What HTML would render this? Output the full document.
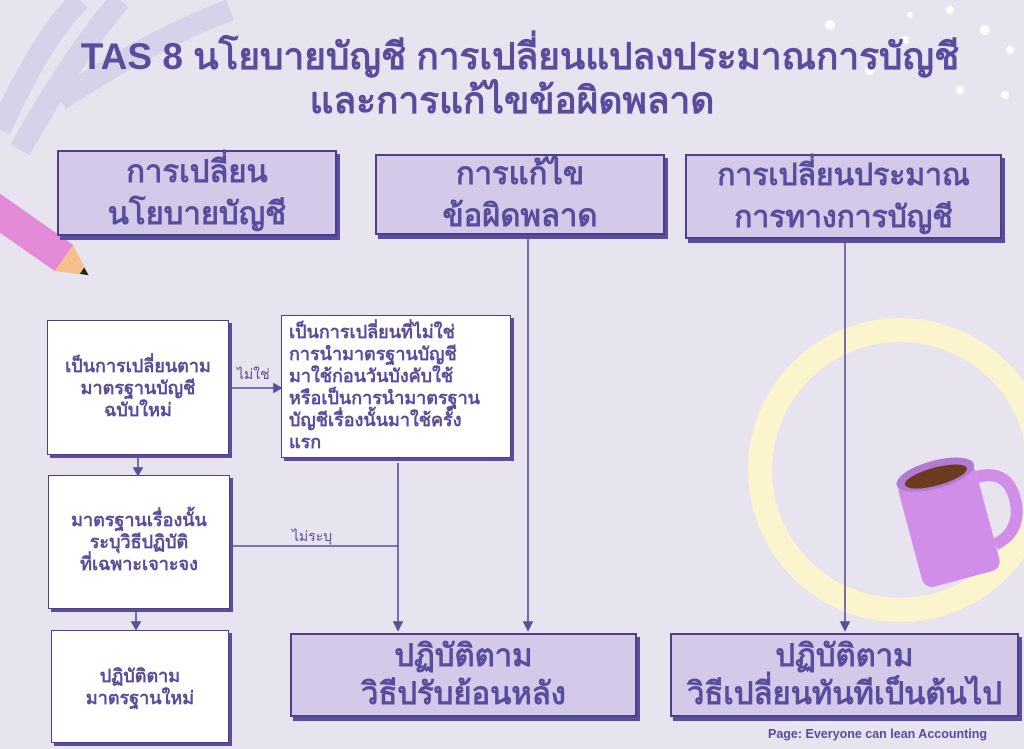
<!DOCTYPE html>
<html><head><meta charset="utf-8"><style>
body{margin:0;width:1024px;height:749px;background:#e7e4ef;position:relative;overflow:hidden;font-family:"Liberation Sans","DejaVu Sans",sans-serif;color:#5a4c9c;font-weight:bold}
.b{position:absolute;box-sizing:border-box;border:2px solid #4d3f8a;box-shadow:3px 4px 0 #5b4d9c;display:flex;align-items:center;justify-content:center;text-align:center;white-space:nowrap}
.p{background:#d3c9e8;font-size:31px;line-height:42px}
.w{background:#fff;font-size:18px;line-height:22px;box-shadow:3px 3px 0 #5b4d9c;border:1.5px solid #4d3f8a}
.t{position:absolute;width:1024px;text-align:center;font-size:37px;line-height:46px;white-space:nowrap}
.l{position:absolute;font-size:14px;font-weight:normal}
svg{position:absolute;left:0;top:0}
</style></head><body>
<svg width="1024" height="749">
<path d="M0 130 Q40 40 80 0 M20 150 Q70 60 120 0 M60 100 Q150 40 230 10" stroke="#d4cce8" stroke-width="22" fill="none" opacity=".8"/>
<circle cx="900" cy="470" r="140" fill="none" stroke="#fbf4cc" stroke-width="24"/>
<g fill="#fff"><circle cx="830" cy="25" r="5"/><circle cx="870" cy="70" r="5"/><circle cx="905" cy="40" r="4"/><circle cx="985" cy="30" r="5"/><circle cx="1010" cy="50" r="4"/><circle cx="960" cy="90" r="4"/><circle cx="1005" cy="95" r="4"/><circle cx="910" cy="15" r="3"/><circle cx="950" cy="10" r="4"/></g>
<g transform="rotate(-15 950 510)"><rect x="905" y="470" width="80" height="110" rx="10" fill="#d08ee8"/><ellipse cx="945" cy="472" rx="40" ry="14" fill="#b27ad0"/><ellipse cx="945" cy="474" rx="32" ry="9" fill="#6b3b20"/><path d="M985 485 q35 0 30 40 q-5 25 -30 30" stroke="#d08ee8" stroke-width="12" fill="none"/></g>
<g transform="rotate(35 40 240)"><rect x="-40" y="225" width="110" height="32" fill="#e38ad8"/><polygon points="70,225 100,241 70,257" fill="#f5c08a"/><polygon points="92,237 100,241 92,245" fill="#222"/></g>
<g stroke="#5b4e9a" stroke-width="1.6" fill="#5b4e9a">
<line x1="528" y1="236" x2="528" y2="624"/><polygon points="524,622 532,622 528,630"/>
<line x1="845" y1="240" x2="845" y2="624"/><polygon points="841,622 849,622 845,630"/>
<line x1="398" y1="463" x2="398" y2="624"/><polygon points="394,622 402,622 398,630"/>
<line x1="230" y1="546" x2="398" y2="546"/>
<line x1="230" y1="388" x2="276" y2="388"/><polygon points="274,384 274,392 281,388"/>
<line x1="138" y1="458" x2="138" y2="470"/><polygon points="134,468 142,468 138,475"/>
<line x1="136" y1="612" x2="136" y2="624"/><polygon points="132,622 140,622 136,629"/>
</g></svg>
<div class="t" style="top:34px;left:8px">TAS 8 นโยบายบัญชี การเปลี่ยนแปลงประมาณการบัญชี</div>
<div class="t" style="top:78px;left:0">และการแก้ไขข้อผิดพลาด</div>
<div class="b p" style="left:57px;top:150px;width:280px;height:86px">การเปลี่ยน<br>นโยบายบัญชี</div>
<div class="b p" style="left:375px;top:154px;width:290px;height:81px">การแก้ไข<br>ข้อผิดพลาด</div>
<div class="b p" style="left:685px;top:154px;width:317px;height:85px;font-size:30px">การเปลี่ยนประมาณ<br>การทางการบัญชี</div>
<div class="b w" style="left:47px;top:320px;width:182px;height:135px">เป็นการเปลี่ยนตาม<br>มาตรฐานบัญชี<br>ฉบับใหม่</div>
<div class="b w" style="left:281px;top:315px;width:230px;height:143px;justify-content:flex-start;text-align:left;padding-left:7px">เป็นการเปลี่ยนที่ไม่ใช่<br>การนำมาตรฐานบัญชี<br>มาใช้ก่อนวันบังคับใช้<br>หรือเป็นการนำมาตรฐาน<br>บัญชีเรื่องนั้นมาใช้ครั้ง<br>แรก</div>
<div class="b w" style="left:48px;top:475px;width:182px;height:134px">มาตรฐานเรื่องนั้น<br>ระบุวิธีปฏิบัติ<br>ที่เฉพาะเจาะจง</div>
<div class="b w" style="left:51px;top:630px;width:178px;height:113px">ปฏิบัติตาม<br>มาตรฐานใหม่</div>
<div class="b p" style="left:290px;top:633px;width:347px;height:84px;font-size:31px;line-height:38px">ปฏิบัติตาม<br>วิธีปรับย้อนหลัง</div>
<div class="b p" style="left:670px;top:633px;width:349px;height:84px;font-size:31px;line-height:38px">ปฏิบัติตาม<br>วิธีเปลี่ยนทันทีเป็นต้นไป</div>
<div class="l" style="left:237px;top:364px">ไม่ใช่</div>
<div class="l" style="left:292px;top:526px">ไม่ระบุ</div>
<div class="l" style="left:768px;top:727px;font-weight:bold;font-size:12.5px">Page: Everyone can lean Accounting</div>
</body></html>
